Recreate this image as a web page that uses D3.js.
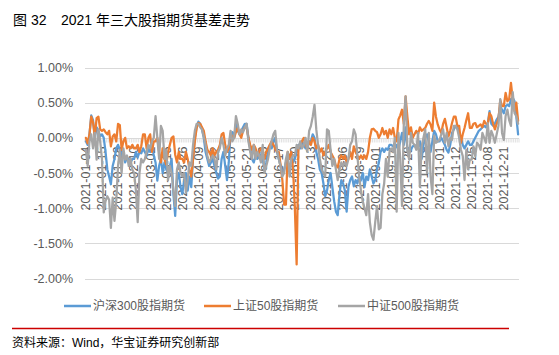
<!DOCTYPE html>
<html><head><meta charset="utf-8">
<script src="https://cdn.jsdelivr.net/npm/d3@7"></script>
<style>
html,body{margin:0;padding:0;background:#fff;}
text{font-family:"Liberation Sans","Noto Sans CJK SC",sans-serif;}
</style></head>
<body><svg id="c" width="559" height="355"></svg>
<script>
// ---- DATA ----
const year = 2021;
// SSE weekday closures in 2021 (used to build the trading-day categories)
const holidays = ["2021-01-01","2021-02-11","2021-02-12","2021-02-15","2021-02-16","2021-02-17",
  "2021-04-05","2021-05-03","2021-05-04","2021-05-05","2021-06-14","2021-09-20","2021-09-21",
  "2021-10-01","2021-10-04","2021-10-05","2021-10-06","2021-10-07"];
const tickLabels = ["2021-01-04","2021-01-15","2021-01-28","2021-02-10","2021-03-02","2021-03-15",
  "2021-03-26","2021-04-09","2021-04-22","2021-05-10","2021-05-21","2021-06-03","2021-06-17",
  "2021-06-30","2021-07-13","2021-07-26","2021-08-06","2021-08-19","2021-09-01","2021-09-14",
  "2021-09-29","2021-10-19","2021-11-01","2021-11-12","2021-11-25","2021-12-08","2021-12-21"];
const yTicks = [1, 0.5, 0, -0.5, -1, -1.5, -2];
const seriesNames = ["沪深300股指期货","上证50股指期货","中证500股指期货"];
const colors = ["#5B9BD5","#ED7D31","#A5A5A5"];

const hs300 = [
 -0.05,-0.10,0.05,0.32,0.25,0.00,0.15,0.10,0.02,
 0.05,0.00,-0.20,-0.45,-0.55,-0.66,-0.40,-0.30,-0.15,
 -0.10,-0.17,-0.25,-0.20,-0.35,-0.28,-0.30,-0.36,-0.30,
 -0.30,-0.20,-0.28,-0.20,-0.22,-0.15,-0.20,-0.25,-0.15,
 -0.20,-0.10,-0.25,-0.35,-0.61,-0.40,-0.30,-0.50,-0.35,
 -0.45,-0.50,-0.40,-0.30,-0.80,-1.11,-0.60,-0.50,-0.70,
 -0.80,-0.60,-0.50,-0.75,-0.55,-0.70,-0.30,0.00,0.15,
 0.23,0.20,0.12,0.00,-0.20,-0.30,-0.40,-0.35,-0.30,
 -0.40,-0.50,-0.58,-0.55,-0.30,-0.20,-0.40,-0.60,-0.35,
 0.05,0.08,0.00,0.20,0.10,0.05,0.10,0.15,0.20,
 0.20,0.00,-0.15,-0.30,-0.35,-0.25,-0.30,-0.20,-0.30,
 -0.30,-0.45,-0.35,-0.20,-0.10,-0.15,-0.05,0.00,-0.20,
 -0.30,-0.40,-0.50,-0.45,-0.35,-0.25,-0.30,-0.20,-0.35,
 -0.30,-0.20,-0.10,-0.15,-0.05,-0.10,-0.15,-0.10,-0.05,
 -0.05,0.05,0.00,-0.20,-0.30,-0.45,-0.50,-0.65,-0.83,
 -0.75,-0.60,-0.50,-0.70,-0.90,-1.05,-1.10,-0.80,-0.60,
 -0.65,-0.75,-1.05,-0.70,-0.60,-0.55,-0.69,-0.60,-0.65,
 -0.55,-0.60,-0.50,-0.70,-0.55,-0.60,-0.45,-0.55,-0.65,
 -0.60,-0.45,-0.36,-0.20,-0.15,-0.20,-0.15,-0.17,-0.10,
 -0.10,-0.12,-0.15,-0.10,-0.17,-0.05,0.07,-0.10,0.15,
 -0.17,-0.15,-0.17,-0.12,-0.10,-0.15,-0.12,-0.05,-0.30,
 -0.10,0.00,0.05,-0.05,-0.20,-0.05,0.10,0.05,-0.05,
 -0.05,0.00,-0.05,-0.10,-0.17,-0.21,-0.10,0.07,0.12,
 0.17,0.15,0.07,0.00,-0.10,-0.15,-0.10,-0.05,-0.10,
 -0.10,-0.05,0.00,0.05,0.10,0.12,0.15,0.17,0.15,
 0.20,0.38,0.20,0.17,0.20,0.26,0.30,0.45,0.40,
 0.35,0.45,0.47,0.45,0.55,0.57,0.52,0.30,0.05];

const sz50 = [
 0.00,-0.08,0.05,0.30,0.22,0.02,0.28,0.30,0.12,
 0.10,0.12,0.08,0.05,0.10,-0.12,0.02,0.05,-0.05,
 0.20,0.18,-0.17,-0.05,0.00,-0.15,-0.12,-0.15,-0.10,
 -0.15,-0.15,-0.10,-0.20,-0.12,0.05,0.05,-0.15,0.00,
 0.05,-0.20,-0.05,-0.05,0.00,-0.20,-0.35,-0.15,-0.30,
 -0.38,-0.20,-0.10,0.00,0.02,-0.24,-0.35,-0.20,-0.30,
 -0.30,-0.35,-0.20,-0.30,-0.45,-0.55,-0.30,-0.05,0.14,
 0.21,0.20,0.15,0.10,-0.05,-0.17,-0.20,-0.25,-0.15,
 -0.25,-0.20,-0.17,-0.10,0.05,0.07,-0.10,-0.20,-0.15,
 0.05,0.02,0.00,0.08,0.14,0.05,0.00,0.10,0.15,
 0.15,0.00,-0.10,-0.17,-0.10,-0.15,-0.25,-0.20,-0.15,
 -0.20,-0.30,-0.20,-0.15,-0.10,-0.05,-0.10,-0.15,-0.20,
 -0.20,-0.38,-0.60,-0.95,-0.95,-0.20,-0.30,-0.20,-0.45,
 -1.00,-1.80,-0.15,-0.10,-0.05,0.00,-0.10,-0.15,-0.05,
 -0.10,0.00,-0.05,-0.15,-0.10,-0.20,-0.15,-0.25,-0.20,
 -0.15,-0.10,-0.20,-0.25,-0.30,-0.40,-0.42,-0.30,-0.25,
 -0.30,-0.25,-0.35,-0.30,-0.20,-0.30,-0.12,-0.20,-0.25,
 -0.30,-0.25,-0.30,-0.25,-0.30,-0.20,0.00,0.12,0.13,
 0.10,0.08,0.00,0.05,0.14,0.05,0.10,0.00,0.12,
 0.05,0.14,0.00,-0.05,0.26,0.32,0.40,0.20,0.59,
 0.30,0.05,0.15,0.00,0.05,0.10,0.05,0.15,0.10,
 0.12,0.14,0.20,0.24,0.19,0.10,0.50,0.30,0.19,
 0.12,0.07,0.20,0.27,0.15,0.02,0.10,0.21,0.30,
 0.30,0.17,0.17,-0.07,0.05,0.14,0.25,0.35,0.14,
 0.14,0.20,0.21,0.15,0.17,0.19,0.15,0.24,0.20,
 0.19,0.35,0.31,0.20,0.12,0.20,0.26,0.54,0.45,
 0.45,0.64,0.52,0.55,0.78,0.54,0.38,0.50,0.24];

const zz500 = [
 -0.17,-0.40,-0.05,0.05,-0.15,0.07,-0.31,0.12,-0.05,
 -0.30,-1.06,-0.90,-0.83,-0.88,-1.28,-0.85,-1.18,-0.90,
 -0.40,-0.17,-0.50,-0.15,-0.31,-0.25,-0.40,-0.30,-0.45,
 -0.50,-0.75,-1.20,-0.50,-0.30,-0.35,-0.30,-0.20,-0.10,
 -0.15,-0.05,0.00,0.31,0.00,-0.30,0.17,0.10,-0.30,
 -0.17,-0.60,-0.40,-0.50,-0.75,-0.97,-0.45,-0.35,-0.50,
 -0.55,-0.50,-0.78,-0.60,-0.35,-0.40,-0.10,0.10,0.20,
 0.20,0.15,0.12,0.02,-0.10,-0.25,-0.35,-0.30,-0.25,
 -0.30,-0.45,-0.20,-0.15,0.00,-0.10,-0.25,-0.15,-0.10,
 0.10,-0.05,0.00,0.31,0.20,0.05,0.12,0.08,0.15,
 0.20,-0.05,-0.20,-0.30,-0.10,-0.30,-0.20,-0.25,-0.35,
 -0.10,-0.50,-0.40,-0.30,-0.15,-0.05,0.05,0.10,-0.17,
 -0.30,-0.40,-0.55,-0.50,-0.30,-0.20,-0.55,-0.30,-0.25,
 -0.25,-0.10,-0.15,-0.05,-0.15,-0.10,0.00,-0.20,0.10,
 0.17,0.30,0.47,0.12,-0.10,-0.30,-0.45,-0.50,-0.55,
 0.12,0.10,-0.17,-0.40,-0.30,-0.45,-0.60,-0.45,-0.35,
 -0.40,-0.35,-0.40,-0.30,-0.10,-0.05,0.12,0.05,-0.25,
 -0.55,-0.75,-0.90,-1.00,-1.10,-0.80,-1.20,-1.38,-1.45,
 -1.20,-0.97,-1.30,-1.28,-0.80,-0.65,-0.30,-0.55,-0.20,
 -0.15,-0.20,0.00,-1.05,0.07,-0.30,-0.97,0.20,0.59,
 -0.17,-0.31,0.07,-0.07,-0.10,-0.17,0.07,-0.70,-0.12,
 0.00,0.12,-0.50,0.07,-0.55,-0.80,0.03,-0.07,-0.05,
 -0.03,0.05,0.12,-0.07,0.07,-0.12,0.00,-0.03,0.17,
 0.17,0.12,0.00,-0.17,-0.26,-0.60,-0.17,-0.45,-0.31,
 -0.31,-0.12,-0.26,-0.07,-0.10,-0.17,0.07,0.00,-0.07,
 0.21,-0.07,0.10,0.03,-0.07,0.05,0.17,0.55,0.07,
 -0.03,0.31,0.40,0.25,0.17,0.65,0.35,0.31,0.20];

// ---- trading-day categories ----
const fmt = d3.utcFormat("%Y-%m-%d");
const dates = d3.utcDays(new Date(Date.UTC(year,0,1)), new Date(Date.UTC(year+1,0,1)))
  .filter(d => d.getUTCDay() !== 0 && d.getUTCDay() !== 6)
  .map(fmt).filter(s => !holidays.includes(s));

// ---- CHART ----
const svg = d3.select("#c");
svg.append("rect").attr("width",559).attr("height",355).attr("fill","#fff");

const x = d3.scalePoint().domain(dates).range([85, 519]).padding(0.5);
const y = d3.scaleLinear().domain([-2, 1]).range([278.5, 67.5]);

// title
svg.append("text").attr("x",13).attr("y",25).attr("font-size",14).attr("fill","#000").text("图 32");
svg.append("text").attr("x",61).attr("y",25).attr("font-size",14).attr("fill","#000").text("2021 年三大股指期货基差走势");

// gridlines
svg.append("g").selectAll("line").data(yTicks).join("line")
  .attr("x1",85).attr("x2",519)
  .attr("y1",d=>Math.round(y(d))+0.5).attr("y2",d=>Math.round(y(d))+0.5)
  .attr("stroke","#D9D9D9").attr("stroke-width",1);

// y axis labels
const yAxis = d3.axisLeft(y).tickValues(yTicks).tickSize(0).tickPadding(0)
  .tickFormat(d => d.toFixed(2) + "%");
const gy = svg.append("g").attr("transform","translate(73,0)").call(yAxis);
gy.select(".domain").remove();
gy.selectAll("text").attr("font-size",12.5).attr("fill","#595959")
  .attr("font-family","Liberation Sans, Noto Sans CJK SC, sans-serif");

// x axis at zero: tick marks between categories
const zy = Math.round(y(0)) + 0.5;
const step = x.step();
const bounds = d3.range(dates.length + 1).map(i => x(dates[0]) - step/2 + i*step);
svg.append("g").selectAll("line").data(bounds).join("line")
  .attr("x1",d=>d).attr("x2",d=>d).attr("y1",zy).attr("y2",zy+4)
  .attr("stroke","#D9D9D9").attr("stroke-width",0.8);
svg.append("line").attr("x1",85).attr("x2",519).attr("y1",zy).attr("y2",zy)
  .attr("stroke","#D9D9D9").attr("stroke-width",1);

// x labels (rotated)
const shown = tickLabels.filter(t => dates.includes(t));
svg.append("g").selectAll("text").data(shown).join("text")
  .attr("transform", d => `translate(${x(d)},${zy + 8}) rotate(-90)`)
  .attr("text-anchor","end").attr("dy","0.35em")
  .attr("font-size",12.5).attr("fill","#595959").text(d => d);

// lines
const seriesData = [hs300, sz50, zz500];
const line = d3.line().x((d,i) => x(dates[i])).y(d => y(d));
svg.append("g").selectAll("path").data(seriesData).join("path")
  .attr("d", d => line(d)).attr("fill","none")
  .attr("stroke",(d,i)=>colors[i]).attr("stroke-width",2.25)
  .attr("stroke-linejoin","round").attr("stroke-linecap","round");

// legend
const legX = [64, 204, 338];
const lg = svg.append("g").selectAll("g").data(seriesNames).join("g")
  .attr("transform",(d,i)=>`translate(${legX[i]},306)`);
lg.append("line").attr("x1",0).attr("x2",27).attr("stroke",(d,i)=>colors[i]).attr("stroke-width",2.5);
lg.append("text").attr("x",29).attr("dy","0.36em").attr("font-size",12).attr("fill","#595959").text(d=>d);

// footer
svg.append("line").attr("x1",12).attr("x2",509).attr("y1",328.5).attr("y2",328.5)
  .attr("stroke","#CC0000").attr("stroke-width",1.5);
svg.append("text").attr("x",12).attr("y",347).attr("font-size",12).attr("fill","#000")
  .text("资料来源：Wind，华宝证券研究创新部");
</script></body></html>
